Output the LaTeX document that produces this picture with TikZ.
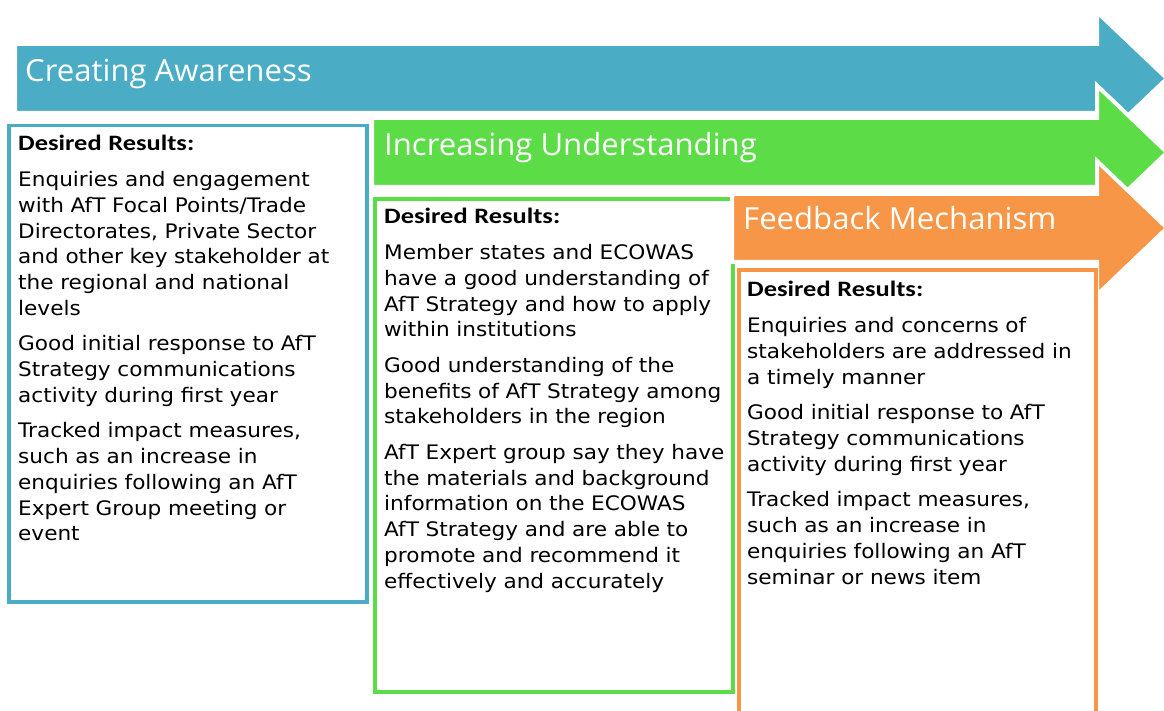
\documentclass[tikz,border=0pt]{standalone}
\usepackage{fontspec}
\setmainfont[FakeStretch=1.08]{DejaVu Sans}
\newfontfamily\titlefont[FakeStretch=1.02]{Open Sans}
\newfontfamily\headfont[FakeStretch=1.2]{Carlito}
\definecolor{awareblue}{HTML}{4BACC6}
\definecolor{undergreen}{HTML}{5CDD48}
\definecolor{feedorange}{HTML}{F79646}
\newcommand\dres{{\headfont\bfseries\fontsize{22}{25.7}\selectfont Desired Results:}}

\tikzset{
  stage/.style={draw=white, line width=4pt, line join=miter},
  resultbox/.style={line width=3.5pt, fill=white},
  stagetitle/.style={anchor=base west, inner sep=0pt, text=white,
    font=\titlefont\fontsize{30.5}{36}\selectfont},
  body/.style={anchor=base west, inner sep=0pt, align=left, text width=352pt,
    font=\fontsize{20}{25.7}\selectfont},
}

\begin{document}
\begin{tikzpicture}[x=1pt,y=-1pt]
  \useasboundingbox (0,0) rectangle (1164,711);

  % stage 1: creating awareness
  \fill[awareblue, stage] (15,44) -- (1097,44) -- (1097,12) -- (1167,78.5)
    -- (1097,145) -- (1097,113) -- (15,113) -- cycle;
  \node[stagetitle] (t1) at (25,81.5) {Creating Awareness};
  \draw[resultbox, draw=awareblue] (9,125.5) rectangle (367,602);
  \node[body] (b1) at (18,151) {\dres\\[10pt]
    Enquiries and engagement\\
    with AfT Focal Points/Trade\\
    Directorates, Private Sector\\
    and other key stakeholder at\\
    the regional and national\\
    levels\\[10pt]
    Good initial response to AfT\\
    Strategy communications\\
    activity during first year\\[10pt]
    Tracked impact measures,\\
    such as an increase in\\
    enquiries following an AfT\\
    Expert Group meeting or\\
    event};

  % stage 2: increasing understanding
  \fill[undergreen, stage] (372,118) -- (1097,118) -- (1097,85.5) -- (1167,152.5)
    -- (1097,219.5) -- (1097,187) -- (372,187) -- cycle;
  \node[stagetitle] (t2) at (384,155.5) {Increasing Understanding};
  \draw[resultbox, draw=undergreen] (375,199) rectangle (733,692);
  \node[body] (b2) at (384,224) {\dres\\[10pt]
    Member states and ECOWAS\\
    have a good understanding of\\
    AfT Strategy and how to apply\\
    within institutions\\[10pt]
    Good understanding of the\\
    benefits of AfT Strategy among\\
    stakeholders in the region\\[10pt]
    AfT Expert group say they have\\
    the materials and background\\
    information on the ECOWAS\\
    AfT Strategy and are able to\\
    promote and recommend it\\
    effectively and accurately};

  % stage 3: feedback mechanism
  \fill[feedorange, stage] (732,194) -- (1097,194) -- (1097,161) -- (1167,228)
    -- (1097,295) -- (1097,262) -- (732,262) -- cycle;
  \node[stagetitle] (t3) at (743,230) {Feedback Mechanism};
  \draw[resultbox, draw=feedorange] (739,270) rectangle (1096,730);
  \node[body] (b3) at (747,297) {\dres\\[10pt]
    Enquiries and concerns of\\
    stakeholders are addressed in\\
    a timely manner\\[10pt]
    Good initial response to AfT\\
    Strategy communications\\
    activity during first year\\[10pt]
    Tracked impact measures,\\
    such as an increase in\\
    enquiries following an AfT\\
    seminar or news item};
\end{tikzpicture}
\end{document}
